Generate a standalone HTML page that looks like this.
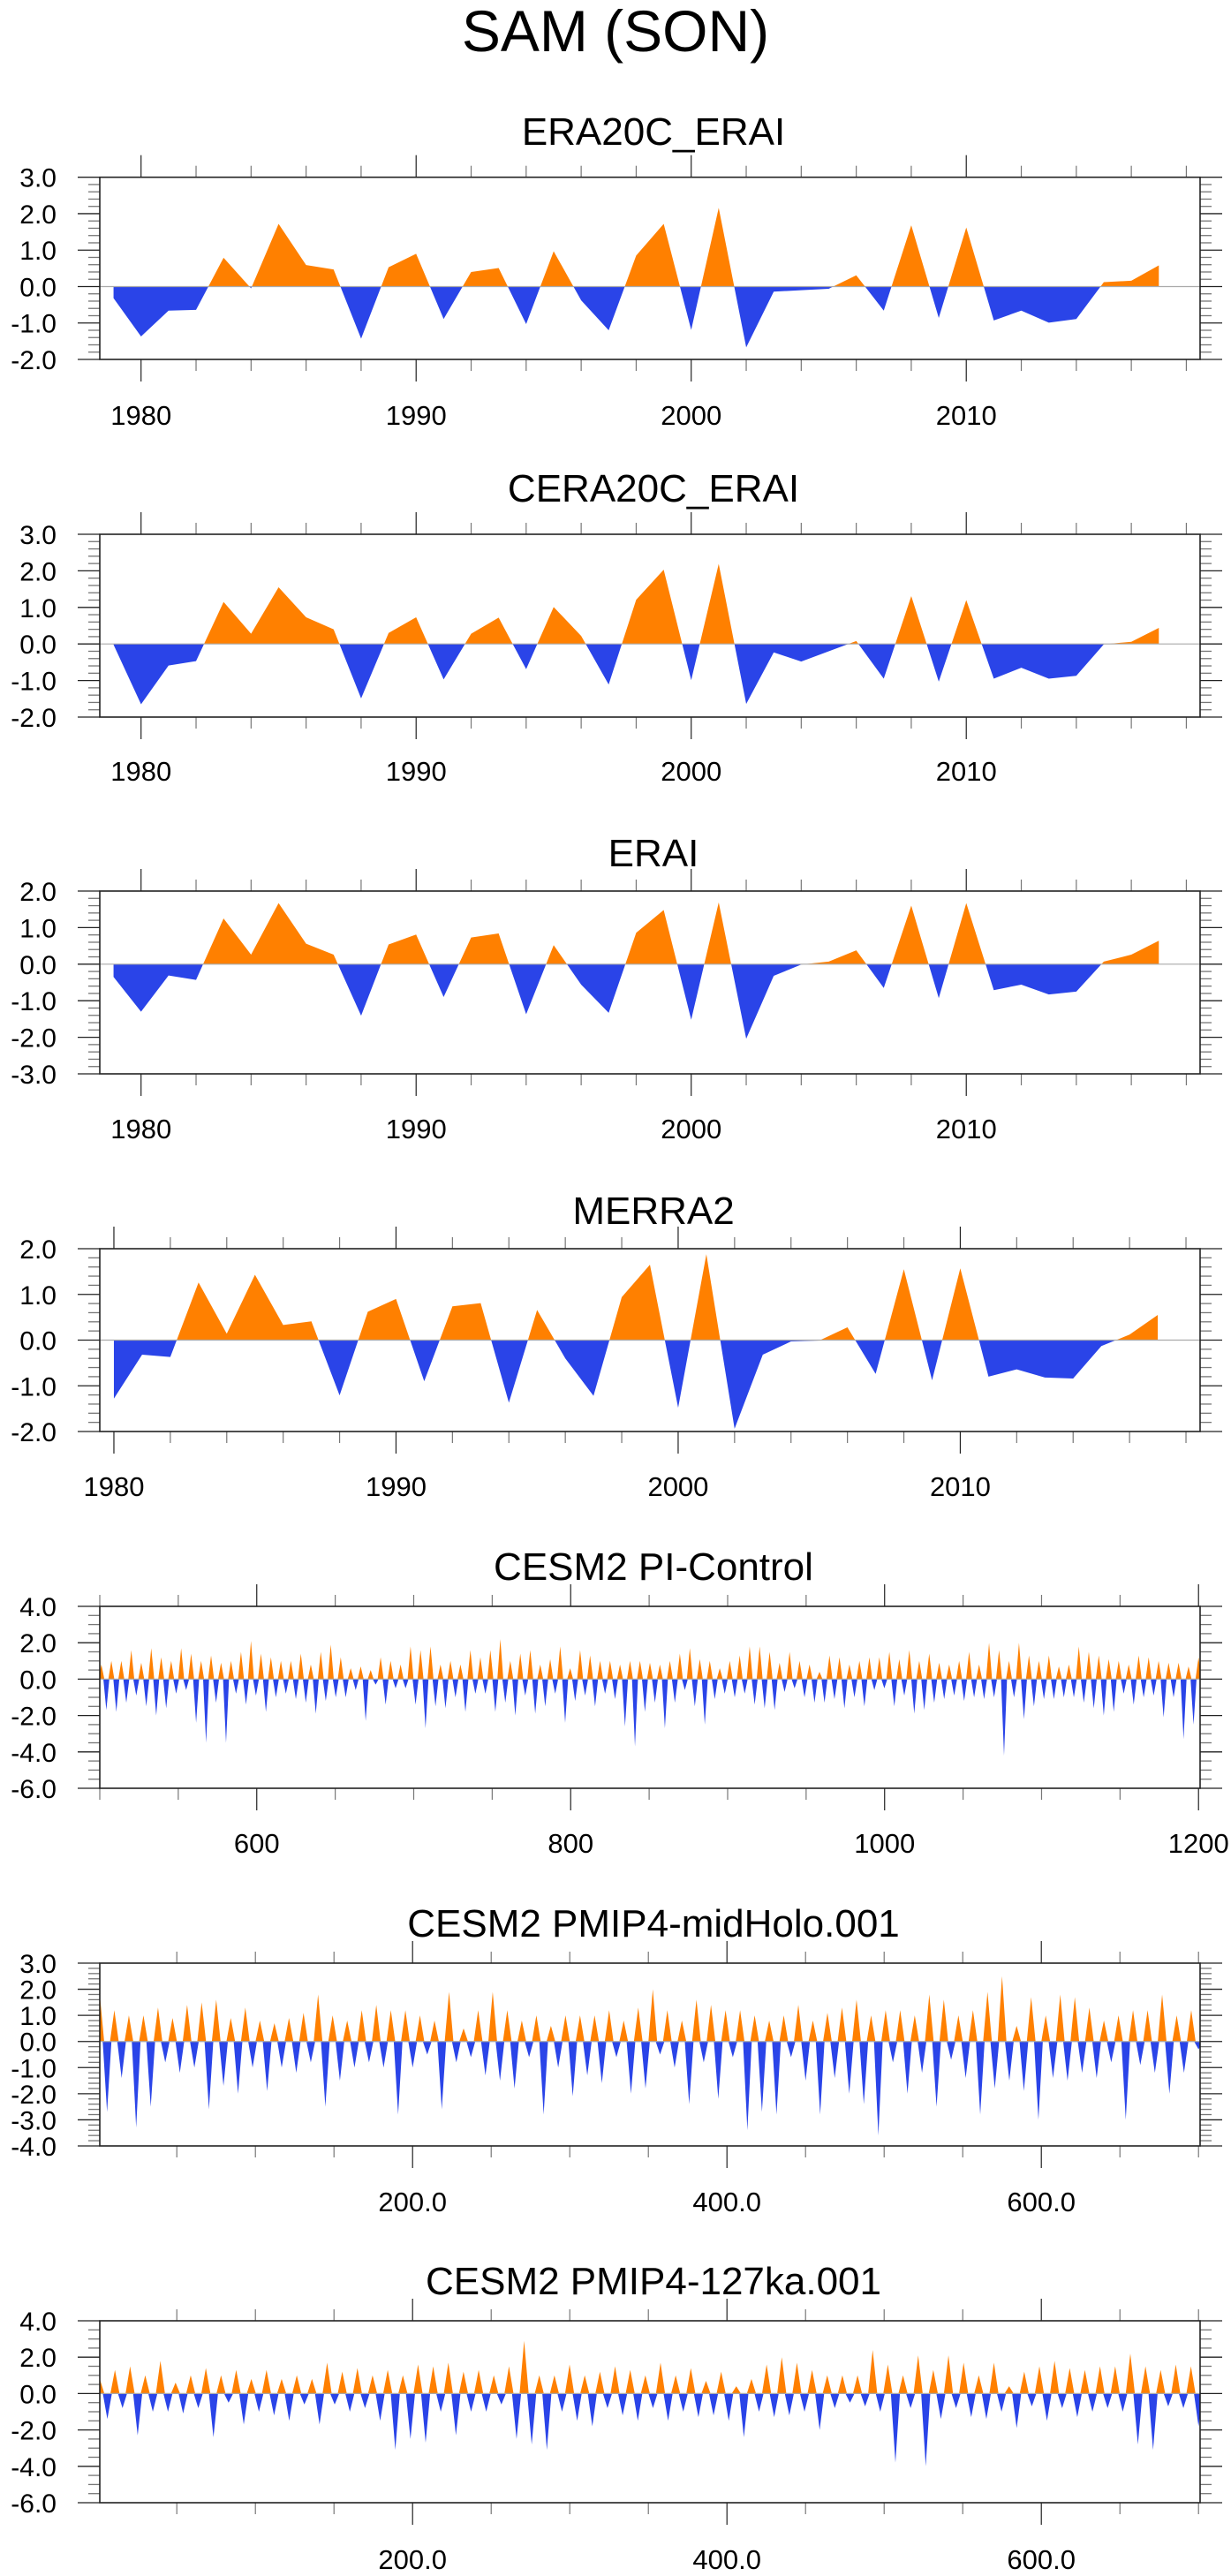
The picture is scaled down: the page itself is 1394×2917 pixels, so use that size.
<!DOCTYPE html>
<html><head><meta charset="utf-8"><title>SAM (SON)</title>
<style>
html,body{margin:0;padding:0;background:#fff;}
svg{display:block;font-family:"Liberation Sans",Arial,sans-serif;}
</style></head>
<body>
<svg id="chart" width="1394" height="2917" viewBox="0 0 1394 2917" xmlns="http://www.w3.org/2000/svg">
<text x="697" y="58" font-size="66" text-anchor="middle">SAM (SON)</text>
</svg>
<script>
// ---- data arrays ----
const era20cYears0 = 1979;
const era20cValues = [-0.32,-1.37,-0.66,-0.64,0.79,-0.05,1.72,0.59,0.47,-1.43,0.53,0.9,-0.89,0.4,0.51,-1.03,0.97,-0.38,-1.2,0.85,1.72,-1.19,2.16,-1.67,-0.14,-0.1,-0.06,0.31,-0.66,1.68,-0.86,1.62,-0.93,-0.66,-0.99,-0.89,0.12,0.16,0.58];
const cera20cYears0 = 1979;
const cera20cValues = [-0.02,-1.65,-0.59,-0.47,1.15,0.28,1.55,0.73,0.4,-1.49,0.3,0.73,-0.97,0.28,0.72,-0.69,1.01,0.22,-1.11,1.21,2.03,-0.99,2.19,-1.64,-0.23,-0.48,-0.2,0.08,-0.95,1.31,-1.03,1.2,-0.95,-0.65,-0.95,-0.87,-0.01,0.06,0.44];
const eraiYears0 = 1979;
const eraiValues = [-0.35,-1.3,-0.31,-0.43,1.25,0.26,1.67,0.56,0.26,-1.41,0.54,0.81,-0.9,0.73,0.84,-1.37,0.52,-0.56,-1.33,0.86,1.48,-1.52,1.69,-2.04,-0.32,-0.01,0.07,0.38,-0.65,1.6,-0.93,1.67,-0.71,-0.56,-0.83,-0.75,0.07,0.26,0.64];
const merra2Years0 = 1980;
const merra2Values = [-1.28,-0.32,-0.37,1.26,0.14,1.43,0.33,0.41,-1.21,0.62,0.9,-0.9,0.74,0.81,-1.37,0.66,-0.4,-1.22,0.94,1.65,-1.48,1.88,-1.94,-0.32,-0.03,-0.01,0.28,-0.74,1.55,-0.88,1.57,-0.8,-0.64,-0.82,-0.84,-0.13,0.12,0.55];
const piControlRange = [501, 1200];
const piControlValues = [0.8,-1.7,1.0,-1.8,1.0,-1.3,1.6,-0.9,0.9,-1.5,1.7,-2.0,1.2,-1.6,1.0,-0.8,1.7,-0.6,1.4,-2.4,1.0,-3.5,1.3,-1.3,0.9,-3.5,1.0,-0.8,1.5,-1.4,2.1,-0.9,1.4,-1.8,1.2,-1.0,1.0,-0.8,1.0,-1.1,1.4,-1.3,0.8,-1.9,1.5,-1.2,1.9,-1.0,1.2,-1.0,0.6,-0.6,0.7,-2.3,0.5,-0.3,1.2,-1.4,1.0,-0.5,0.8,-0.5,1.8,-1.4,1.6,-2.7,1.8,-1.5,0.8,-1.6,1.0,-1.0,0.8,-1.8,1.6,-0.8,1.2,-0.8,1.6,-1.8,2.2,-1.3,1.0,-2.0,1.4,-0.9,1.6,-1.9,0.8,-1.5,1.1,-0.8,1.8,-2.4,0.6,-1.2,1.6,-0.9,1.3,-1.5,1.0,-0.8,1.0,-1.1,0.8,-2.6,1.0,-3.7,1.0,-1.8,0.9,-1.3,0.8,-2.7,
1.0,-1.3,1.4,-0.6,1.7,-1.5,1.1,-2.5,1.0,-1.1,0.6,-0.8,1.0,-1.0,1.3,-0.8,1.8,-1.4,1.8,-1.6,1.5,-1.7,0.9,-0.7,1.5,-0.5,1.0,-1.0,0.8,-1.3,0.4,-1.3,1.3,-1.1,1.2,-1.6,0.8,-1.0,1.0,-1.5,1.2,-0.6,1.2,-0.5,1.5,-1.5,1.1,-0.9,1.6,-1.9,1.0,-1.7,1.4,-1.3,0.9,-1.1,0.8,-0.9,1.0,-1.2,1.5,-1.0,0.8,-1.1,2.0,-1.0,1.6,-4.2,1.0,-1.0,2.0,-2.2,1.3,-1.5,1.0,-1.1,1.3,-1.1,0.7,-1.0,0.8,-1.0,1.8,-1.3,1.5,-1.6,1.3,-2.0,1.1,-1.8,1.0,-0.8,0.8,-1.4,1.3,-1.0,1.2,-0.9,1.0,-2.1,0.9,-1.0,0.9,-3.3,0.7,-2.5,1.2];
const midHoloRange = [1, 700];
const midHoloValues = [1.8,-2.7,1.2,-1.4,1.0,-3.3,1.0,-2.5,1.3,-0.8,0.9,-1.2,1.4,-1.0,1.5,-2.6,1.6,-1.7,0.9,-2.0,1.3,-1.0,0.8,-1.9,0.7,-1.0,0.9,-1.2,1.1,-0.8,1.8,-2.5,1.0,-1.5,0.8,-1.0,1.2,-0.8,1.4,-1.0,1.2,-2.8,1.2,-1.0,1.0,-0.5,0.8,-2.6,1.9,-0.8,0.5,-0.6,1.2,-1.3,1.9,-1.5,1.2,-1.8,0.8,-0.6,1.0,-2.8,0.6,-1.0,1.0,-2.1,1.0,-1.3,1.0,-1.6,1.2,-0.6,0.8,-2.0,1.3,-1.8,2.0,-0.5,1.2,-1.0,0.8,-2.4,1.6,-0.8,1.4,-2.2,1.2,-0.6,1.2,-3.4,1.0,-2.7,0.8,-2.8,1.0,-0.6,1.4,-1.5,0.8,-2.8,1.1,-1.4,1.3,-2.0,1.6,-2.4,1.0,-3.6,1.2,-0.8,1.2,-2.0,1.0,-1.2,1.8,-2.5,1.6,-0.7,1.0,-1.4,1.2,-2.8,1.9,-1.8,2.5,-1.5,0.6,-1.9,1.7,-3.0,1.0,-1.4,1.8,-1.5,1.7,-1.2,1.3,-1.4,0.8,-0.8,1.0,-3.0,1.2,-0.9,1.2,-1.2,1.8,-2.0,1.0,-1.2,1.2,-0.3];
const ka127Range = [1, 700];
const ka127Values = [0.8,-1.4,1.3,-0.8,1.5,-2.3,1.0,-1.0,1.8,-1.0,0.6,-1.1,1.0,-0.8,1.4,-2.4,1.0,-0.5,1.3,-1.7,0.8,-1.0,1.3,-1.2,0.8,-1.5,1.0,-0.6,0.8,-1.7,1.7,-0.6,1.2,-1.0,1.4,-0.8,1.0,-1.5,1.3,-3.1,1.0,-2.5,1.6,-2.7,1.5,-1.0,1.7,-2.3,1.2,-1.0,1.3,-1.0,1.0,-0.6,1.5,-2.5,2.9,-2.8,1.0,-3.1,1.0,-1.0,1.6,-1.5,1.0,-1.8,1.2,-0.8,1.5,-1.2,1.3,-1.5,1.0,-0.8,1.7,-1.5,1.0,-1.0,1.4,-1.3,0.7,-1.2,1.2,-1.5,0.4,-2.4,0.8,-1.0,1.6,-1.3,2.0,-1.2,1.7,-1.0,1.3,-2.0,1.0,-0.8,1.0,-0.5,1.0,-0.7,2.4,-1.0,1.6,-3.8,1.0,-0.8,2.1,-4.0,1.3,-1.4,2.1,-0.8,1.7,-1.3,1.0,-1.4,1.7,-1.0,0.4,-1.9,1.2,-0.7,1.5,-1.5,1.8,-0.8,1.4,-1.3,1.3,-1.0,1.5,-0.8,1.5,-1.0,2.2,-2.8,1.5,-3.1,1.3,-0.7,1.6,-0.8,1.5,-1.8];
const yearTicks = [1980, 1990, 2000, 2010];
const piTicks = [600, 800, 1000, 1200];
const holoTicks = [200, 400, 600];

const svg = document.getElementById('chart');
const NS = 'http://www.w3.org/2000/svg';
const L = 113, R = 1359;
function mk(tag, attrs, parent){const e=document.createElementNS(NS,tag);for(const k in attrs)e.setAttribute(k,attrs[k]);(parent||svg).appendChild(e);return e;}

const panels = [
 {key:'era20c-erai', title:'ERA20C_ERAI', tY:164, top:200.7, bot:407, y0:-2, y1:3, yMaj:1, yMin:0.2, x0:1978.5, x1:2018.5, xt:yearTicks, xMin:2, lab:v=>String(v), labY:481, vals:era20cValues, start:era20cYears0, dense:null},
 {key:'cera20c-erai', title:'CERA20C_ERAI', tY:568, top:605, bot:812, y0:-2, y1:3, yMaj:1, yMin:0.2, x0:1978.5, x1:2018.5, xt:yearTicks, xMin:2, lab:v=>String(v), labY:884, vals:cera20cValues, start:cera20cYears0, dense:null},
 {key:'erai', title:'ERAI', tY:981, top:1009, bot:1216, y0:-3, y1:2, yMaj:1, yMin:0.2, x0:1978.5, x1:2018.5, xt:yearTicks, xMin:2, lab:v=>String(v), labY:1289, vals:eraiValues, start:eraiYears0, dense:null},
 {key:'merra2', title:'MERRA2', tY:1386, top:1414, bot:1621, y0:-2, y1:2, yMaj:1, yMin:0.2, x0:1979.5, x1:2018.5, xt:yearTicks, xMin:2, lab:v=>String(v), labY:1694, vals:merra2Values, start:merra2Years0, dense:null},
 {key:'pi-control', title:'CESM2 PI-Control', tY:1789, top:1819, bot:2025, y0:-6, y1:4, yMaj:2, yMin:0.5, x0:500, x1:1201, xt:piTicks, xMin:50, lab:v=>String(v), labY:2098, vals:piControlValues, dense:piControlRange},
 {key:'midholo', title:'CESM2 PMIP4-midHolo.001', tY:2193, top:2223, bot:2430, y0:-4, y1:3, yMaj:1, yMin:0.2, x0:1, x1:701, xt:holoTicks, xMin:50, lab:v=>v.toFixed(1), labY:2504, vals:midHoloValues, dense:midHoloRange},
 {key:'127ka', title:'CESM2 PMIP4-127ka.001', tY:2598, top:2628, bot:2834, y0:-6, y1:4, yMaj:2, yMin:0.5, x0:1, x1:701, xt:holoTicks, xMin:50, lab:v=>v.toFixed(1), labY:2909, vals:ka127Values, dense:ka127Range}
];

panels.forEach((p, pi) => {
  const g = mk('g', {});
  
  
  const xs = v => L + (v - p.x0) / (p.x1 - p.x0) * (R - L);
  const ys = v => p.bot - (v - p.y0) / (p.y1 - p.y0) * (p.bot - p.top);
  const t = mk('text', {x:740, y:p.tY, 'font-size':44, 'text-anchor':'middle'}, g);
  t.textContent = p.title;
  
  

  const pts = p.vals.map((v, i) => {
    const xv = p.dense ? p.dense[0] + i * (p.dense[1] - p.dense[0]) / (p.vals.length - 1) : p.start + i;
    return [xs(xv), ys(v)];
  });
  const z = ys(0);
  let d = '';
  if (p.dense) {
    const w = (pts[1][0] - pts[0][0]) * 0.6;
    pts.forEach(q => {
      d += 'M' + (q[0]-w).toFixed(2) + ',' + z + ' L' + q[0].toFixed(2) + ',' + q[1].toFixed(2) +
           ' L' + (q[0]+w).toFixed(2) + ',' + z + ' Z ';
    });
  } else {
    d = 'M' + pts[0][0] + ',' + z;
    pts.forEach(q => { d += ' L' + q[0].toFixed(2) + ',' + q[1].toFixed(2); });
    d += ' L' + pts[pts.length-1][0] + ',' + z + ' Z';
  }
  const cu = mk('clipPath', {id:'cu' + pi}, g); mk('rect', {x:L, y:p.top, width:R-L, height:z-p.top}, cu);
  const cl = mk('clipPath', {id:'cl' + pi}, g); mk('rect', {x:L, y:z, width:R-L, height:p.bot-z}, cl);
  const pos = mk('path', {d:d, fill:'#ff8000', 'clip-path':'url(#cu' + pi + ')'}, g);
  
  
  const neg = mk('path', {d:d, fill:'#2a44e8', 'clip-path':'url(#cl' + pi + ')'}, g);
  
  
  const zl = mk('line', {x1:L, x2:R, y1:z, y2:z, stroke:'#aaa', 'stroke-width':1.2}, g);
  
  

  const nMin = Math.round((p.y1 - p.y0) / p.yMin);
  for (let k = 0; k <= nMin; k++) {
    const v = p.y0 + k * p.yMin, y = ys(v);
    const major = Math.abs(v / p.yMaj - Math.round(v / p.yMaj)) < 1e-6;
    const len = major ? 25 : 13;
    mk('line', {x1:L-len, x2:L, y1:y, y2:y, stroke:major?'#222':'#777', 'stroke-width':1.3}, g);
    mk('line', {x1:R, x2:R+len, y1:y, y2:y, stroke:major?'#222':'#777', 'stroke-width':1.3}, g);
    if (major) {
      const tl = mk('text', {x:64, y:y+11, 'font-size':30, 'text-anchor':'end'}, g);
      tl.textContent = v.toFixed(1);
      
      
    }
  }
  const first = Math.ceil(p.x0 / p.xMin) * p.xMin;
  for (let v = first; v <= p.x1; v += p.xMin) {
    const x = xs(v);
    const major = p.xt.indexOf(v) >= 0;
    const len = major ? 25 : 13;
    mk('line', {x1:x, x2:x, y1:p.top-len, y2:p.top, stroke:major?'#222':'#777', 'stroke-width':1.2}, g);
    mk('line', {x1:x, x2:x, y1:p.bot, y2:p.bot+len, stroke:major?'#222':'#777', 'stroke-width':1.2}, g);
  }
  p.xt.forEach(v => {
    const xl = mk('text', {x:xs(v), y:p.labY, 'font-size':31, 'text-anchor':'middle'}, g);
    xl.textContent = p.lab(v);
    
    
  });
  const fr = mk('rect', {x:L, y:p.top, width:R-L, height:p.bot-p.top, fill:'none', stroke:'#222', 'stroke-width':1.6}, g);
  
  
});
</script>
</body></html>
